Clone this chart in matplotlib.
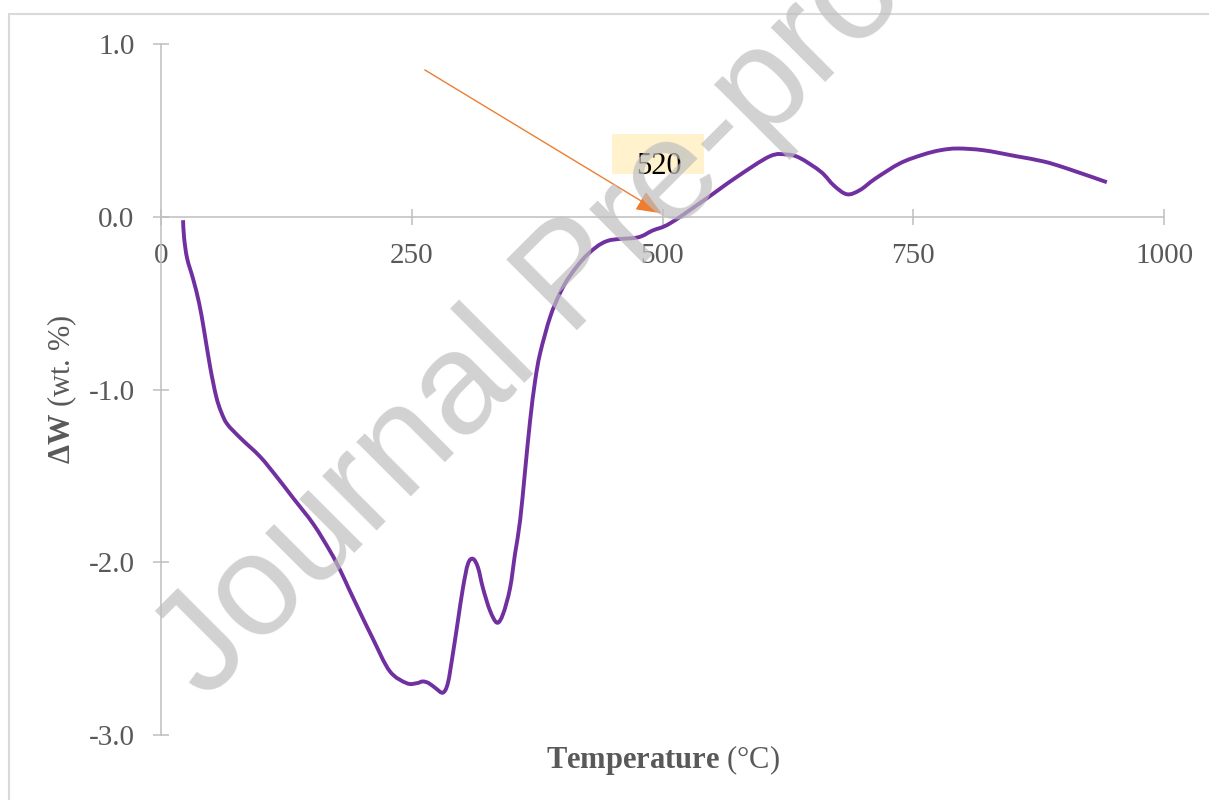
import matplotlib
matplotlib.use("Agg")
import matplotlib.pyplot as plt
import numpy as np
from matplotlib.patches import Rectangle, PathPatch
from matplotlib.path import Path
from matplotlib.ticker import FormatStrFormatter

plt.rcParams['font.family'] = ['Liberation Serif', 'DejaVu Serif']
plt.rcParams['mathtext.fontset'] = 'custom'
plt.rcParams['mathtext.rm'] = 'Liberation Serif'
plt.rcParams['mathtext.bf'] = 'Liberation Serif:bold'
plt.rcParams['mathtext.it'] = 'Liberation Serif:italic'
plt.rcParams['axes.unicode_minus'] = False

# data (temperature in C, weight change in wt.%)
temperature = [22, 23, 26, 32, 38, 43, 49, 55, 60, 66, 79, 99, 116, 132, 152,
               169, 179, 187, 196, 211, 228, 245, 255, 261, 267, 274, 281, 286,
               291, 296, 301, 306, 311, 316, 321, 328, 335, 341, 348, 353, 358,
               363, 368, 373, 378, 388, 398, 408, 425, 445, 475, 490, 507, 540,
               574, 607, 624, 637, 658, 671, 684, 697, 712, 737, 760, 777, 794,
               820, 853, 880, 903, 943]
delta_w = [-0.02, -0.12, -0.24, -0.36, -0.50, -0.66, -0.87, -1.04, -1.13,
           -1.20, -1.28, -1.39, -1.51, -1.63, -1.78, -1.94, -2.05, -2.15,
           -2.26, -2.44, -2.63, -2.70, -2.70, -2.69, -2.70, -2.73, -2.755,
           -2.70, -2.53, -2.34, -2.15, -2.01, -1.98, -2.03, -2.15, -2.28,
           -2.35, -2.30, -2.15, -1.95, -1.76, -1.47, -1.18, -0.95, -0.79,
           -0.58, -0.44, -0.34, -0.22, -0.14, -0.12, -0.08, -0.04, 0.09, 0.23,
           0.35, 0.36, 0.34, 0.26, 0.18, 0.13, 0.155, 0.22, 0.31, 0.36, 0.385,
           0.395, 0.385, 0.35, 0.32, 0.28, 0.20]

x_ticks = [0, 250, 500, 750, 1000]
y_ticks = [-3.0, -2.0, -1.0, 0.0, 1.0]

label_text = "520"
arrow_from = (263, 0.85)
arrow_to = (499, 0.02)


def smooth_path(xs, ys):
    # excel-style smoothed line: cubic bezier segments through every point
    p = np.column_stack([xs, ys]).astype(float)
    n = len(p)
    verts = [p[0]]
    codes = [Path.MOVETO]
    for i in range(n - 1):
        p0 = p[i - 1] if i > 0 else p[i]
        p3 = p[i + 2] if i + 2 < n else p[i + 1]
        c1 = p[i] + (p[i + 1] - p0) / 6
        c2 = p[i + 1] - (p3 - p[i]) / 6
        verts += [c1, c2, p[i + 1]]
        codes += [Path.CURVE4] * 3
    return Path(verts, codes)


fig = plt.figure(figsize=(12.09, 8), dpi=100)
ax = fig.add_axes([161 / 1209, 1 - 735 / 800, 1003 / 1209, 691 / 800])

# outer chart frame (cut at right and bottom)
fig.patches.append(Rectangle((9 / 1209, -0.2), 1.5, 0.2 + (1 - 14 / 800),
                             transform=fig.transFigure, fill=False,
                             ec='#D9D9D9', lw=1.5))

ax.add_patch(PathPatch(smooth_path(temperature, delta_w), fill=False,
                       ec='#7030A0', lw=2.8, capstyle='butt',
                       joinstyle='round', zorder=3))

ax.set_xlim(0, 1000)
ax.set_ylim(-3, 1)
ax.set_xticks(x_ticks)
ax.set_yticks(y_ticks)
ax.yaxis.set_major_formatter(FormatStrFormatter('%.1f'))

for s in ['top', 'right']:
    ax.spines[s].set_visible(False)
ax.spines['bottom'].set_position(('data', 0))
for s in ['bottom', 'left']:
    ax.spines[s].set_color('#BFBFBF')
    ax.spines[s].set_linewidth(1.1)
ax.tick_params(direction='inout', length=12, width=1.1, color='#BFBFBF',
               labelsize=21, labelcolor='#595959', pad=13)

ax.set_xlabel(r'$\mathbf{Temperature}$ (°C)', fontsize=22, color='#595959',
              va='top')
ax.xaxis.set_label_coords(0.5, -0.012)
ax.set_ylabel(r'$\mathbf{\Delta W}$ (wt. %)', fontsize=22, color='#595959',
              va='center')
ax.yaxis.set_label_coords(-0.0987, 0.5)

# annotation
ax.add_patch(Rectangle((450, 0.25), 91, 0.23, fc='#FFF2CC', ec='none', zorder=2))
ax.text(496, 0.25, label_text, fontsize=22, color='black', ha='center',
        va='baseline', zorder=4)
ax.annotate('', xy=arrow_to, xytext=arrow_from,
            arrowprops=dict(arrowstyle='-|>,head_length=0.6,head_width=0.25',
                            mutation_scale=26, color='#ED7D31', lw=1.0,
                            shrinkA=0, shrinkB=0), zorder=4)

# watermark
fig.text(206 / 1209, 1 - 702 / 800, 'Journal Pre-proof', fontsize=104,
         family='Liberation Sans', color='#BEBEBE', alpha=0.7, rotation=45,
         rotation_mode='anchor', ha='left', va='baseline', zorder=10)

fig.savefig('out.png', dpi=100)
